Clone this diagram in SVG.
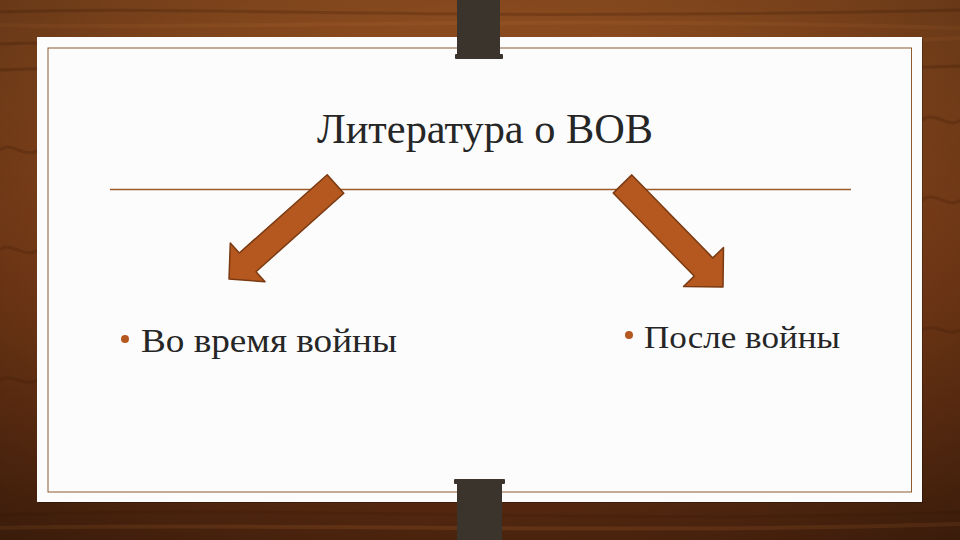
<svg xmlns="http://www.w3.org/2000/svg" width="960" height="540" viewBox="0 0 960 540">
  <defs>
    <linearGradient id="wood" x1="0" y1="0" x2="0" y2="1">
      <stop offset="0" stop-color="#8c4c1f"/>
      <stop offset="0.5" stop-color="#703715"/>
      <stop offset="1" stop-color="#4e250e"/>
    </linearGradient>
    <radialGradient id="vig" cx="0.5" cy="0.5" r="0.75">
      <stop offset="0.6" stop-color="#000" stop-opacity="0"/>
      <stop offset="1" stop-color="#000" stop-opacity="0.3"/>
    </radialGradient>
    <style>
      .streak { fill: none; stroke: #3f1d08; stroke-opacity: 0.25; stroke-width: 3; }
      .streakL { fill: none; stroke: #b06a32; stroke-opacity: 0.22; stroke-width: 4; }
      .clip { fill: #3b342c; }
      .arrow { fill: #b5581f; stroke: #7a3a12; stroke-width: 1.5; stroke-linejoin: round; }
      .title { font-family: "Liberation Serif", "DejaVu Serif", serif; font-size: 42px; fill: #262626; }
      .item { font-family: "Liberation Serif", "DejaVu Serif", serif; fill: #262626; }
      .bullet { fill: #b5581f; }
    </style>
  </defs>

  <g id="background">
    <rect x="0" y="0" width="960" height="540" fill="url(#wood)"/>
    <path class="streak" d="M0 12 C200 5 400 22 960 10"/>
    <path class="streakL" d="M0 25 C250 30 500 15 960 28"/>
    <path class="streak" d="M0 44 C150 38 300 50 460 42"/>
    <path class="streakL" d="M500 40 C650 34 800 46 960 38"/>
    <path class="streak" d="M0 70 C300 60 600 78 960 66"/>
    <path class="streak" d="M0 150 C12 140 25 160 38 150"/>
    <path class="streak" d="M0 250 C10 240 25 260 38 250"/>
    <path class="streak" d="M0 380 C10 372 25 388 38 380"/>
    <path class="streak" d="M922 120 C935 110 950 130 960 120"/>
    <path class="streak" d="M922 200 C935 190 950 210 960 200"/>
    <path class="streak" d="M922 330 C935 322 950 338 960 330"/>
    <path class="streak" d="M0 515 C300 505 600 525 960 512"/>
    <path class="streakL" d="M0 528 C300 522 600 535 960 524"/>
    <rect x="0" y="0" width="960" height="540" fill="url(#vig)"/>
  </g>

  <g id="card">
    <rect x="39" y="39" width="884" height="464" fill="#000" opacity="0.25"/>
    <rect x="37" y="37" width="885" height="465" fill="#fcfcfc"/>
    <rect x="48" y="48" width="863.5" height="444" fill="none" stroke="#8b5a2e" stroke-width="1"/>
  </g>

  <g id="clip-top">
    <rect class="clip" x="457" y="0" width="43" height="56"/>
    <rect class="clip" x="455" y="54" width="48" height="5" rx="1"/>
  </g>
  <g id="clip-bottom">
    <rect class="clip" x="454" y="479" width="51" height="5" rx="1"/>
    <rect class="clip" x="457" y="481" width="45" height="59"/>
  </g>

  <g id="title">
    <text class="title" x="317" y="143" textLength="336" lengthAdjust="spacingAndGlyphs">Литература о ВОВ</text>
  </g>

  <g id="connectors">
    <line x1="110" y1="189.5" x2="851" y2="189.5" stroke="#9c5a2a" stroke-width="1.3"/>
    <polygon class="arrow" points="327.2,174.7 343.8,193.3 256,271.7 265,281.8 229,279 230.3,243 239.3,253"/>
    <polygon class="arrow" points="631.8,174.9 712.8,257.9 723.5,247.5 723,287 683.5,286.5 694.2,276.1 613.2,193.1"/>
  </g>

  <g id="item-left">
    <circle class="bullet" cx="125" cy="339" r="4"/>
    <text class="item" x="141" y="352" font-size="34" textLength="256" lengthAdjust="spacingAndGlyphs">Во время войны</text>
  </g>

  <g id="item-right">
    <circle class="bullet" cx="629" cy="335" r="4"/>
    <text class="item" x="644" y="348" font-size="32" textLength="196" lengthAdjust="spacingAndGlyphs">После войны</text>
  </g>
</svg>
